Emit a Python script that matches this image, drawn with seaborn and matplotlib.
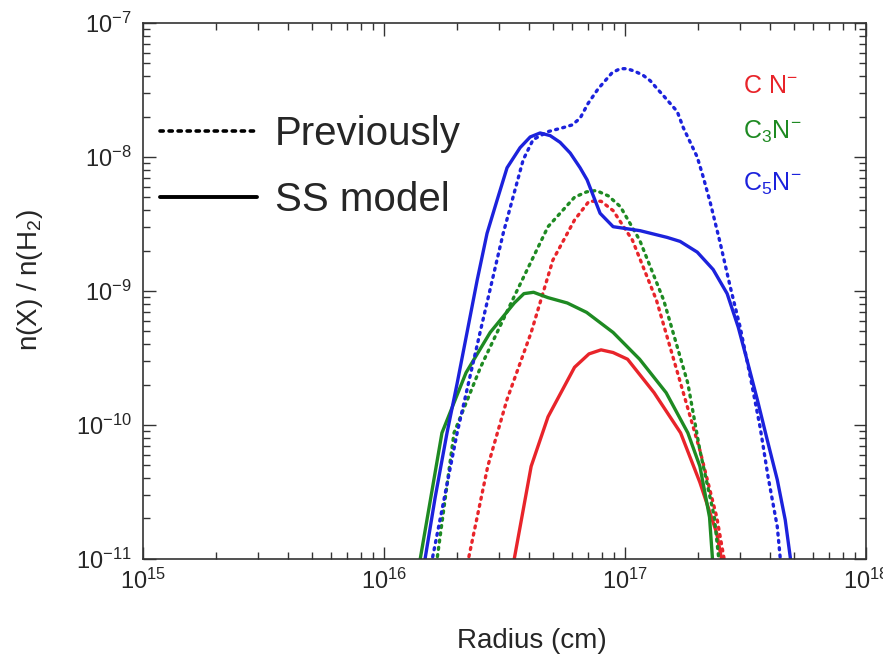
import numpy as np
import pandas as pd
import matplotlib
matplotlib.use("Agg")
import matplotlib.pyplot as plt
from matplotlib.lines import Line2D
import seaborn as sns

# --- data (log10 radius [cm], log10 n(X)/n(H2)) ---
cn_ss_logr = [16.52, 16.54, 16.61, 16.68, 16.79, 16.85, 16.90, 16.95, 17.01, 17.12, 17.23, 17.31, 17.38, 17.42]
cn_ss_logn = [-11.2, -11.0, -10.31, -9.94, -9.57, -9.47, -9.44, -9.46, -9.51, -9.76, -10.06, -10.43, -10.81, -11.2]

cn_prev_logr = [16.33, 16.35, 16.43, 16.51, 16.61, 16.70, 16.79, 16.85, 16.90, 16.95, 17.03, 17.13, 17.23, 17.31, 17.38, 17.43]
cn_prev_logn = [-11.2, -11.0, -10.31, -9.81, -9.31, -8.77, -8.47, -8.33, -8.33, -8.40, -8.62, -9.07, -9.69, -10.19, -10.69, -11.2]

c3n_ss_logr = [16.14, 16.15, 16.24, 16.34, 16.44, 16.54, 16.58, 16.62, 16.68, 16.76, 16.84, 16.95, 17.06, 17.17, 17.26, 17.31, 17.35, 17.37]
c3n_ss_logn = [-11.2, -11.0, -10.06, -9.61, -9.31, -9.09, -9.02, -9.01, -9.05, -9.09, -9.16, -9.31, -9.51, -9.76, -10.06, -10.31, -10.69, -11.2]

c3n_prev_logr = [16.20, 16.22, 16.29, 16.40, 16.54, 16.68, 16.79, 16.84, 16.88, 16.93, 16.98, 17.06, 17.16, 17.26, 17.31, 17.37, 17.40]
c3n_prev_logn = [-11.2, -11.0, -10.06, -9.57, -9.04, -8.52, -8.30, -8.26, -8.25, -8.29, -8.37, -8.62, -9.07, -9.69, -10.19, -10.69, -11.2]

c5n_ss_logr = [16.165, 16.170, 16.212, 16.261, 16.303, 16.344, 16.386, 16.427, 16.469, 16.510, 16.564, 16.606,
               16.647, 16.689, 16.730, 16.772, 16.813, 16.842, 16.896, 16.950, 17.062, 17.174, 17.228, 17.299,
               17.365, 17.423, 17.469, 17.506, 17.548, 17.589, 17.631, 17.664, 17.685, 17.690]
c5n_ss_logn = [-11.15, -11.00, -10.54, -10.06, -9.69, -9.31, -8.92, -8.57, -8.32, -8.08, -7.93, -7.85,
               -7.82, -7.84, -7.89, -7.97, -8.08, -8.17, -8.42, -8.52, -8.55, -8.60, -8.63, -8.71,
               -8.84, -9.02, -9.27, -9.52, -9.81, -10.11, -10.41, -10.71, -10.99, -11.15]

c5n_prev_logr = [16.195, 16.200, 16.303, 16.398, 16.494, 16.577, 16.618, 16.680, 16.743, 16.780, 16.813, 16.846,
                 16.888, 16.917, 16.946, 16.979, 17.008, 17.041, 17.075, 17.104, 17.133, 17.158, 17.187, 17.216,
                 17.241, 17.270, 17.299, 17.324, 17.353, 17.394, 17.436, 17.477, 17.519, 17.560, 17.593, 17.631,
                 17.643, 17.652]
c5n_prev_logn = [-11.15, -11.00, -10.06, -9.31, -8.57, -8.02, -7.87, -7.81, -7.78, -7.76, -7.71, -7.60,
                 -7.49, -7.43, -7.37, -7.34, -7.34, -7.36, -7.39, -7.43, -7.49, -7.54, -7.60, -7.66,
                 -7.78, -7.89, -8.00, -8.15, -8.34, -8.64, -8.97, -9.27, -9.64, -10.02, -10.39, -10.76,
                 -10.99, -11.15]

species = ["CN-", "C3N-", "C5N-"]
species_labels = ["C N$^{-}$", "C$_3$N$^{-}$", "C$_5$N$^{-}$"]
colors = ["#e8242a", "#1e8a22", "#1c22dc"]
models = ["SS model", "Previously"]

curves = [
    (species[0], models[0], cn_ss_logr, cn_ss_logn),
    (species[0], models[1], cn_prev_logr, cn_prev_logn),
    (species[1], models[0], c3n_ss_logr, c3n_ss_logn),
    (species[1], models[1], c3n_prev_logr, c3n_prev_logn),
    (species[2], models[0], c5n_ss_logr, c5n_ss_logn),
    (species[2], models[1], c5n_prev_logr, c5n_prev_logn),
]

rows = []
for sp, model, lr, ln in curves:
    for a, b in zip(lr, ln):
        rows.append({"species": sp, "model": model, "radius": 10 ** a, "abund": 10 ** b,
                     "curve": sp + model})
df = pd.DataFrame(rows)

sns.set_style("ticks")
plt.rcParams["font.family"] = ["Liberation Sans", "DejaVu Sans"]
plt.rcParams["mathtext.fontset"] = "custom"
plt.rcParams["mathtext.rm"] = "Liberation Sans"
plt.rcParams["mathtext.it"] = "Liberation Sans"
plt.rcParams["mathtext.default"] = "regular"
plt.rcParams["lines.dash_capstyle"] = "round"

fig = plt.figure(figsize=(8.83, 6.62), dpi=100)
ax = fig.add_axes([0.162, 0.156, 0.819, 0.809])

sns.lineplot(data=df, x="radius", y="abund", hue="species", style="model",
             units="curve", estimator=None, sort=False,
             palette=dict(zip(species, colors)),
             dashes={"SS model": "", "Previously": (0.6, 1.6)},
             linewidth=2.4, legend=False, ax=ax)

ax.set_xscale("log")
ax.set_yscale("log")
ax.set_xlim(1e15, 1e18)
ax.set_ylim(1e-11, 1e-7)

ax.tick_params(which="both", direction="in", top=True, right=True, width=1.0, color="#333333")
ax.tick_params(which="major", length=9, labelsize=17)
ax.tick_params(axis="x", which="major", pad=7)
ax.tick_params(axis="y", which="major", pad=8)
ax.tick_params(which="minor", length=5)
for s in ax.spines.values():
    s.set_linewidth(1.2)
    s.set_color("#333333")

ax.set_xlabel("Radius (cm)", fontsize=20)
ax.xaxis.set_label_coords(0.537, -0.13)
ax.set_ylabel("n(X) / n(H$_2$)", fontsize=20)
ax.yaxis.set_label_coords(-0.136, 0.52)

# model legend (line styles)
handles = [Line2D([], [], color="black", linestyle=(0, (0.9, 1.6)), linewidth=2.6,
                  dash_capstyle="round"),
           Line2D([], [], color="black", linestyle="-", linewidth=2.8)]
ax.legend(handles, models[::-1], loc="upper left",
          bbox_to_anchor=(0.0235, 0.828), frameon=False, fontsize=29,
          handlelength=2.4, handletextpad=0.45, labelspacing=0.70,
          borderaxespad=0.0, borderpad=0.0)

# species labels
for i, (lab, col) in enumerate(zip(species_labels, colors)):
    ax.text(0.830, [0.869, 0.784, 0.687][i], lab, color=col, fontsize=18,
            transform=ax.transAxes, ha="left", va="baseline")

fig.savefig("out.png", dpi=100)
